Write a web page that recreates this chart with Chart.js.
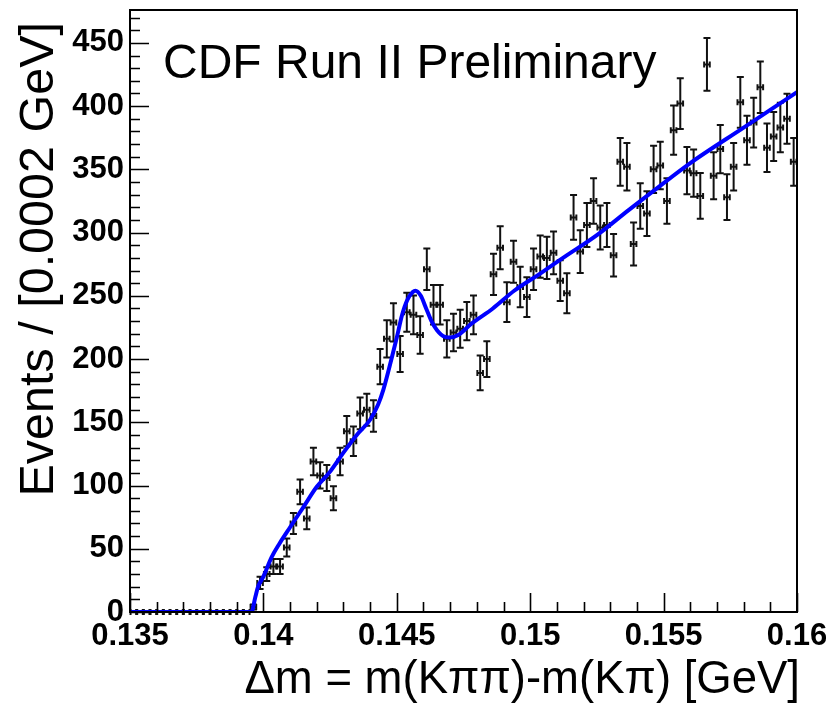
<!DOCTYPE html>
<html>
<head>
<meta charset="utf-8">
<script src="https://cdn.jsdelivr.net/npm/chart.js@4"></script>
<style>
html, body { margin: 0; padding: 0; background: #fff; }
#wrap { width: 826px; height: 705px; }
</style>
</head>
<body>
<div id="wrap"><canvas id="chart" width="826" height="705"></canvas></div>
<script>
// histogram: 100 bins from 0.135 to 0.16
const binLow = 0.135;
const binWidth = 0.00025;
const counts = [
  0, 0, 0, 0, 0, 0, 0, 0, 0, 0, 0, 0, 0, 0, 0, 0, 0, 0,
  4, 23, 30, 36, 36, 51, 70, 95, 74, 119, 108, 106, 90, 119, 143, 135,
  157, 160, 155, 194, 216, 229, 204, 237, 235, 219, 271, 243, 243, 216,
  221, 224, 230, 235, 189, 200, 267, 288, 245, 277, 257, 249, 271, 281,
  280, 284, 262, 252, 312, 285, 306, 325, 304, 306, 282, 356, 352, 291,
  321, 315, 350, 353, 325, 381, 402, 349, 347, 329, 433, 345, 366, 328,
  352, 403, 373, 387, 415, 367, 376, 383, 390, 356
];

// fit curve
const fitX = [0.135, 0.1395, 0.13955, 0.1397, 0.1398, 0.1400, 0.1403, 0.1406, 0.1410, 0.1415,
  0.1420, 0.1425, 0.1430, 0.1435, 0.1440, 0.1443, 0.1445, 0.1448, 0.1450, 0.1452,
  0.1454, 0.1456, 0.1457, 0.1459, 0.1461, 0.1463, 0.1465, 0.1468, 0.1470, 0.1473,
  0.1478, 0.1486, 0.1494, 0.1504, 0.1513, 0.1525, 0.1537, 0.1545, 0.1560, 0.1580, 0.1600];
const fitY = [0, 0, 0, 12, 20, 28, 43, 54, 67, 83,
  99, 111, 126, 140, 152, 164, 176, 200, 217, 235,
  247, 253, 254, 250, 240, 230, 223, 217.5, 217, 219,
  228, 240, 254, 268, 281, 298, 318, 331, 355, 383, 411];

const xTickLabels = ['0.135', '0.14', '0.145', '0.15', '0.155', '0.16'];
const yTickLabels = ['0', '50', '100', '150', '200', '250', '300', '350', '400', '450'];

const xTitle = '\u0394m = m(K\u03c0\u03c0)-m(K\u03c0) [GeV]';
const yTitle = 'Events / [0.0002 GeV]';
const label = 'CDF Run II Preliminary';

const points = counts.map((c, i) => ({x: binLow + (i + 0.5) * binWidth, y: c}));
const fit = fitX.map((x, i) => ({x: x, y: fitY[i]}));

Chart.defaults.font.family = '"Liberation Sans", Arial, sans-serif';
Chart.defaults.color = '#000';

// ROOT-like frame, inside ticks, error bars and titles
const rootStyle = {
  id: 'rootStyle',
  beforeDatasetsDraw(chart) {
    const ctx = chart.ctx;
    const xs = chart.scales.x, ys = chart.scales.y;
    ctx.save();
    ctx.strokeStyle = '#111';
    ctx.lineWidth = 2;
    points.forEach(p => {
      const px = xs.getPixelForValue(p.x);
      const py = ys.getPixelForValue(p.y);
      const hx = xs.getPixelForValue(p.x + binWidth * 0.42) - px;
      const err = Math.sqrt(p.y);
      ctx.beginPath();
      // horizontal bar with end caps
      ctx.moveTo(px - hx, py); ctx.lineTo(px + hx, py);
      ctx.moveTo(px - hx, py - 3); ctx.lineTo(px - hx, py + 3);
      ctx.moveTo(px + hx, py - 3); ctx.lineTo(px + hx, py + 3);
      if (err > 0) {
        const top = ys.getPixelForValue(p.y + err);
        const bot = ys.getPixelForValue(p.y - err);
        ctx.moveTo(px, top); ctx.lineTo(px, bot);
        ctx.moveTo(px - 3.5, top); ctx.lineTo(px + 3.5, top);
        ctx.moveTo(px - 3.5, bot); ctx.lineTo(px + 3.5, bot);
      }
      ctx.stroke();
    });
    ctx.restore();
  },
  afterDraw(chart) {
    const ctx = chart.ctx;
    const a = chart.chartArea;
    const xs = chart.scales.x, ys = chart.scales.y;
    ctx.save();
    ctx.strokeStyle = '#000';
    ctx.lineWidth = 2;
    ctx.strokeRect(a.left, a.top, a.right - a.left, a.bottom - a.top);

    ctx.lineWidth = 1.6;
    ctx.beginPath();
    for (let v = 0; v <= 470; v += 10) {
      const py = Math.round(ys.getPixelForValue(v)) + 0.5;
      const len = v % 50 === 0 ? 19 : 10;
      ctx.moveTo(a.left, py); ctx.lineTo(a.left + len, py);
    }
    for (let k = 0; k <= 25; k++) {
      const px = Math.round(xs.getPixelForValue(binLow + k * 0.001)) + 0.5;
      const len = k % 5 === 0 ? 19 : 10;
      ctx.moveTo(px, a.bottom); ctx.lineTo(px, a.bottom - len);
    }
    ctx.stroke();

    ctx.fillStyle = '#000';
    ctx.font = '48px "Liberation Sans", Arial, sans-serif';
    ctx.textAlign = 'left';
    ctx.textBaseline = 'alphabetic';
    ctx.fillText(label, 163, 78);

    ctx.font = '45.5px "Liberation Sans", Arial, sans-serif';
    ctx.textAlign = 'right';
    ctx.fillText(xTitle, 800, 693);

    ctx.translate(53, 22);
    ctx.rotate(-Math.PI / 2);
    ctx.font = '48.5px "Liberation Sans", Arial, sans-serif';
    ctx.textAlign = 'right';
    ctx.fillText(yTitle, 0, 0);
    ctx.restore();
  }
};

new Chart(document.getElementById('chart'), {
  type: 'scatter',
  data: {
    datasets: [
      {label: 'data', data: points, pointRadius: 0, showLine: false},
      {label: 'fit', data: fit, showLine: true, borderColor: '#0000ff', borderWidth: 4,
       pointRadius: 0, cubicInterpolationMode: 'monotone', fill: false}
    ]
  },
  options: {
    responsive: false,
    animation: false,
    devicePixelRatio: 1,
    layout: {padding: {top: 10, right: 29, left: 0, bottom: 0}},
    plugins: {legend: {display: false}, tooltip: {enabled: false}},
    scales: {
      x: {
        type: 'linear', min: 0.135, max: 0.16,
        grid: {display: false, drawTicks: false},
        border: {display: false},
        ticks: {
          stepSize: 0.005, autoSkip: false, maxRotation: 0, padding: 6,
          font: {size: 31, weight: 'bold'},
          callback: v => xTickLabels[Math.round((v - 0.135) / 0.005)]
        },
        afterFit: s => { s.height = 93; s.paddingLeft = 0; s.paddingRight = 0; }
      },
      y: {
        type: 'linear', min: 0, max: 476,
        grid: {display: false, drawTicks: false},
        border: {display: false},
        ticks: {
          stepSize: 50, includeBounds: false, padding: 6,
          font: {size: 31, weight: 'bold'},
          callback: v => yTickLabels[Math.round(v / 50)]
        },
        afterFit: s => { s.width = 130; s.paddingTop = 0; s.paddingBottom = 0; }
      }
    }
  },
  plugins: [rootStyle]
});
</script>
</body>
</html>
